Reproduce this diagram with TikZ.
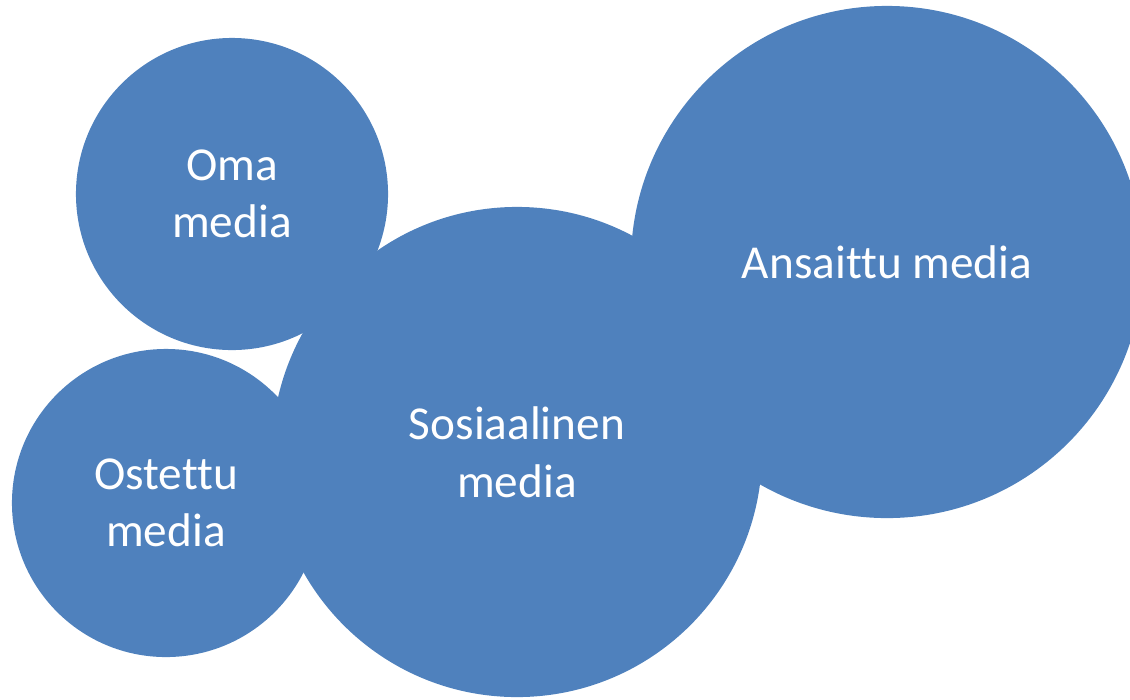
\documentclass[tikz,border=0pt]{standalone}
\usepackage{fontspec}
\setmainfont{Carlito}[Ligatures={NoCommon}]
\definecolor{mediablue}{RGB}{79, 129, 189}
\usetikzlibrary{positioning}
\tikzset{
  bubble/.style={circle, fill=mediablue, draw=none, inner sep=0pt, align=center,
    text=white, font=\fontsize{33.6}{41}\selectfont}
}

\begin{document}
\begin{tikzpicture}[x=0.025cm, y=-0.025cm]
  \clip (0, 0) rectangle (1130, 699);

  % The four media bubbles
  \node[bubble, minimum size=12.8cm] (earned) at (887, 262) {Ansaittu media};
  \node[bubble, minimum size=12.25cm] (social) at (517, 452) {Sosiaalinen\\media};
  \node[bubble, minimum size=7.8cm] (owned) at (232, 194) {Oma\\media};
  \node[bubble, minimum size=7.7cm] (paid) at (166, 503) {Ostettu\\media};
\end{tikzpicture}
\end{document}
